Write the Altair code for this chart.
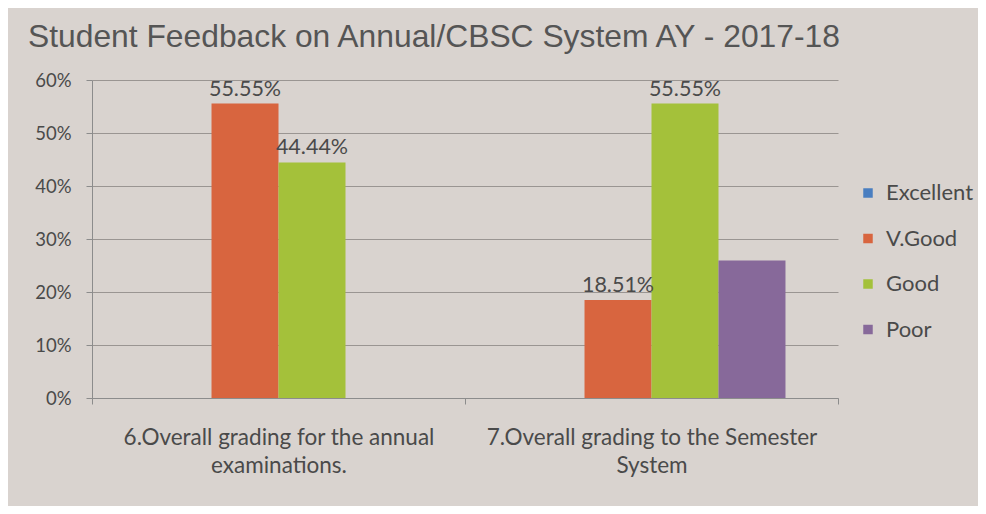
import altair as alt
import pandas as pd

title_text = "Student Feedback on Annual/CBSC System AY - 2017-18"
category_lines = [
    ["6.Overall grading for the annual", "examinations."],
    ["7.Overall grading to the Semester", "System"],
]
categories = [" ".join(l) for l in category_lines]
ratings = ["Excellent", "V.Good", "Good", "Poor"]
colors = ["#4a7ec0", "#d8653f", "#a4c13a", "#87699a"]

# values in percent, per rating, for each category
excellent = [0.0, 0.0]
vgood = [55.55, 18.51]
good = [44.44, 55.55]
poor = [0.0, 25.92]
# data labels shown in the original (None = no label)
label_vgood = ["55.55%", "18.51%"]
label_good = ["44.44%", "55.55%"]
label_poor = [None, None]
label_excellent = [None, None]

rows = []
series = {
    "Excellent": (excellent, label_excellent),
    "V.Good": (vgood, label_vgood),
    "Good": (good, label_good),
    "Poor": (poor, label_poor),
}
for r in ratings:
    vals, labs = series[r]
    for i, c in enumerate(categories):
        rows.append({"category": c, "rating": r, "value": vals[i] / 100.0,
                     "label": labs[i] if labs[i] else ""})
df = pd.DataFrame(rows)

label_expr = " : ".join(
    [f"datum.value == '{c}' ? {l!r}" for c, l in zip(categories, category_lines)]
) + " : datum.label"

BODY = "Lato"
TXT = "#4a4a4a"

x = alt.X("category:N", sort=categories, title=None,
          scale=alt.Scale(paddingInner=0, paddingOuter=0),
          axis=alt.Axis(labelAngle=0, labelExpr=label_expr, labelFont=BODY,
                        labelFontSize=22.5, labelColor=TXT, labelLineHeight=28,
                        labelPadding=22, labelLimit=0, tickBand="extent",
                        tickSize=6, tickColor="#8c8c8c", domainColor="#8c8c8c",
                        grid=False, labelBaseline="top"))
xo = alt.XOffset("rating:N", sort=ratings,
                 scale=alt.Scale(domain=ratings, paddingInner=0,
                                 paddingOuter=0.784))
y = alt.Y("value:Q", title=None,
          scale=alt.Scale(domain=[0, 0.6], nice=False),
          axis=alt.Axis(format=".0%", values=[0, 0.1, 0.2, 0.3, 0.4, 0.5, 0.6],
                        labelFont=BODY, labelFontSize=18.5, labelColor=TXT,
                        labelPadding=15, tickSize=6, tickColor="#8c8c8c",
                        domainColor="#8c8c8c", gridColor="#9a9592",
                        gridWidth=1))

bars = alt.Chart(df).mark_bar().encode(
    x=x, xOffset=xo, y=y,
    color=alt.Color("rating:N", sort=ratings,
                    scale=alt.Scale(domain=ratings, range=colors),
                    legend=alt.Legend(title=None, orient="none", legendX=765,
                                      legendY=102, symbolType="square",
                                      symbolSize=90, symbolStrokeWidth=0,
                                      labelFont=BODY, labelFontSize=22,
                                      labelColor=TXT, rowPadding=23.5,
                                      labelOffset=7)),
)

texts = alt.Chart(df).transform_filter("datum.label != ''").mark_text(
    baseline="bottom", dy=-3, font=BODY, fontSize=21.5, color=TXT
).encode(x=x, xOffset=xo, y=y, text="label:N")

chart = alt.layer(bars, texts).properties(
    width=746, height=318,
    autosize=alt.AutoSizeParams(type="none"),
    padding={"left": 84, "top": 72, "right": 140, "bottom": 108},
    background="#d9d3cf",
    title=alt.TitleParams(title_text, anchor="start", frame="group",
                          font="Liberation Sans", fontSize=31.8,
                          fontWeight="normal", color="#555555",
                          dx=-64, offset=17),
).configure_view(stroke=None)

chart.save("out.html", embed_options={"renderer": "svg", "actions": False})
